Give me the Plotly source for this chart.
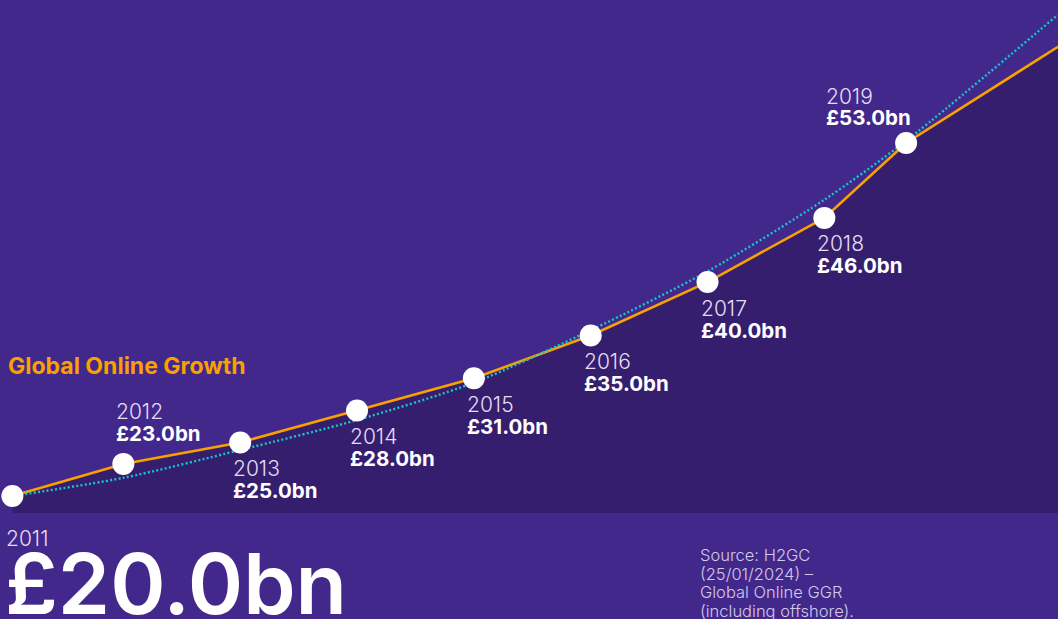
import plotly.graph_objects as go

# data
years = [2011, 2012, 2013, 2014, 2015, 2016, 2017, 2018, 2019]
x_pos = [2011.05, 2012.0, 2013.0, 2014.0, 2015.0, 2016.0, 2017.0, 2018.0, 2018.7]
values = [20.0, 23.0, 25.0, 28.0, 31.0, 35.0, 40.0, 46.0, 53.0]
value_labels = ["£20.0bn", "£23.0bn", "£25.0bn", "£28.0bn", "£31.0bn",
                "£35.0bn", "£40.0bn", "£46.0bn", "£53.0bn"]

# line keeps going past 2019 to the right edge
line_x = x_pos + [2020.0]
line_y = values + [62.0]

# dotted trend curve
trend_x = x_pos + [2020.0]
trend_y = [20.0, 21.7, 24.3, 27.1, 30.6, 35.5, 41.0, 47.7, 53.2, 65.0]

source_lines = ["Source: H2GC", "(25/01/2024) –", "Global Online GGR",
                "(including offshore)."]

BG = "#42288A"
FILL = "#361E6F"
ORANGE = "#F9A100"
CYAN = "#17C6CB"
FONT = "Inter"
PLOT_H = 619 - 106

fig = go.Figure()

fig.add_trace(go.Scatter(
    x=line_x, y=line_y, mode="lines",
    line=dict(color=ORANGE, width=2.6),
    fill="tozeroy", fillcolor=FILL,
    hoverinfo="skip", showlegend=False,
))
fig.add_trace(go.Scatter(
    x=trend_x, y=trend_y, mode="lines",
    line=dict(color=CYAN, width=2.4, dash="2px,2.3px", shape="spline", smoothing=0.8),
    hoverinfo="skip", showlegend=False,
))
fig.add_trace(go.Scatter(
    x=x_pos, y=values, mode="markers",
    marker=dict(color="white", size=22, line=dict(width=0)),
    cliponaxis=False,
    hovertemplate="%{text}<extra></extra>", text=value_labels,
    showlegend=False,
))

# point labels: (year offset, value offset, x offset) in px
above = {2012: (52, 30, -9), 2019: (47, 26, -82)}
below = (-26, -48, -9)

annotations = []
for yr, xp, v, lab in zip(years[1:], x_pos[1:], values[1:], value_labels[1:]):
    dy_year, dy_val, dx = above.get(yr, below)
    annotations.append(dict(
        x=xp, y=v, xref="x", yref="y", text=str(yr), showarrow=False,
        xanchor="left", yanchor="middle", xshift=dx, yshift=dy_year,
        font=dict(family=FONT, size=21, color="#E4DDF2", weight=300),
    ))
    annotations.append(dict(
        x=xp, y=v, xref="x", yref="y", text=lab, showarrow=False,
        xanchor="left", yanchor="middle", xshift=dx, yshift=dy_val,
        font=dict(family=FONT, size=20.5, color="white", weight=700),
    ))

# title
annotations.append(dict(
    x=0, y=1 - 366 / PLOT_H, xref="paper", yref="paper", text="Global Online Growth",
    showarrow=False, xanchor="left", yanchor="middle", xshift=6,
    font=dict(family=FONT, size=23, color=ORANGE, weight=700),
))

# 2011 figure in the bottom band
annotations.append(dict(
    x=0, y=0, xref="paper", yref="paper", text=str(years[0]), showarrow=False,
    xanchor="left", yanchor="middle", xshift=4, yshift=-25,
    font=dict(family=FONT, size=21, color="#E4DDF2", weight=300),
))
annotations.append(dict(
    x=0, y=0, xref="paper", yref="paper", text=value_labels[0], showarrow=False,
    xanchor="left", yanchor="top", xshift=3, yshift=-18,
    font=dict(family=FONT, size=84, color="white", weight=600),
))

# source note, one line per annotation for tighter spacing
for i, line in enumerate(source_lines):
    annotations.append(dict(
        x=0, y=0, xref="paper", yref="paper", text=line,
        showarrow=False, xanchor="left", yanchor="middle",
        xshift=698, yshift=-(42 + 18.5 * i),
        font=dict(family=FONT, size=16.5, color="#D2CAEA", weight=300),
    ))

fig.update_layout(
    width=1058, height=619,
    paper_bgcolor=BG, plot_bgcolor=BG,
    margin=dict(l=0, r=0, t=0, b=106),
    xaxis=dict(range=[2010.944, 2020.0], visible=False, fixedrange=True),
    yaxis=dict(range=[18.41, 66.37], visible=False, fixedrange=True),
    annotations=annotations,
    showlegend=False,
)

fig.write_html("out.html", config={"displayModeBar": False},
               post_script="document.body.style.margin='0';")
